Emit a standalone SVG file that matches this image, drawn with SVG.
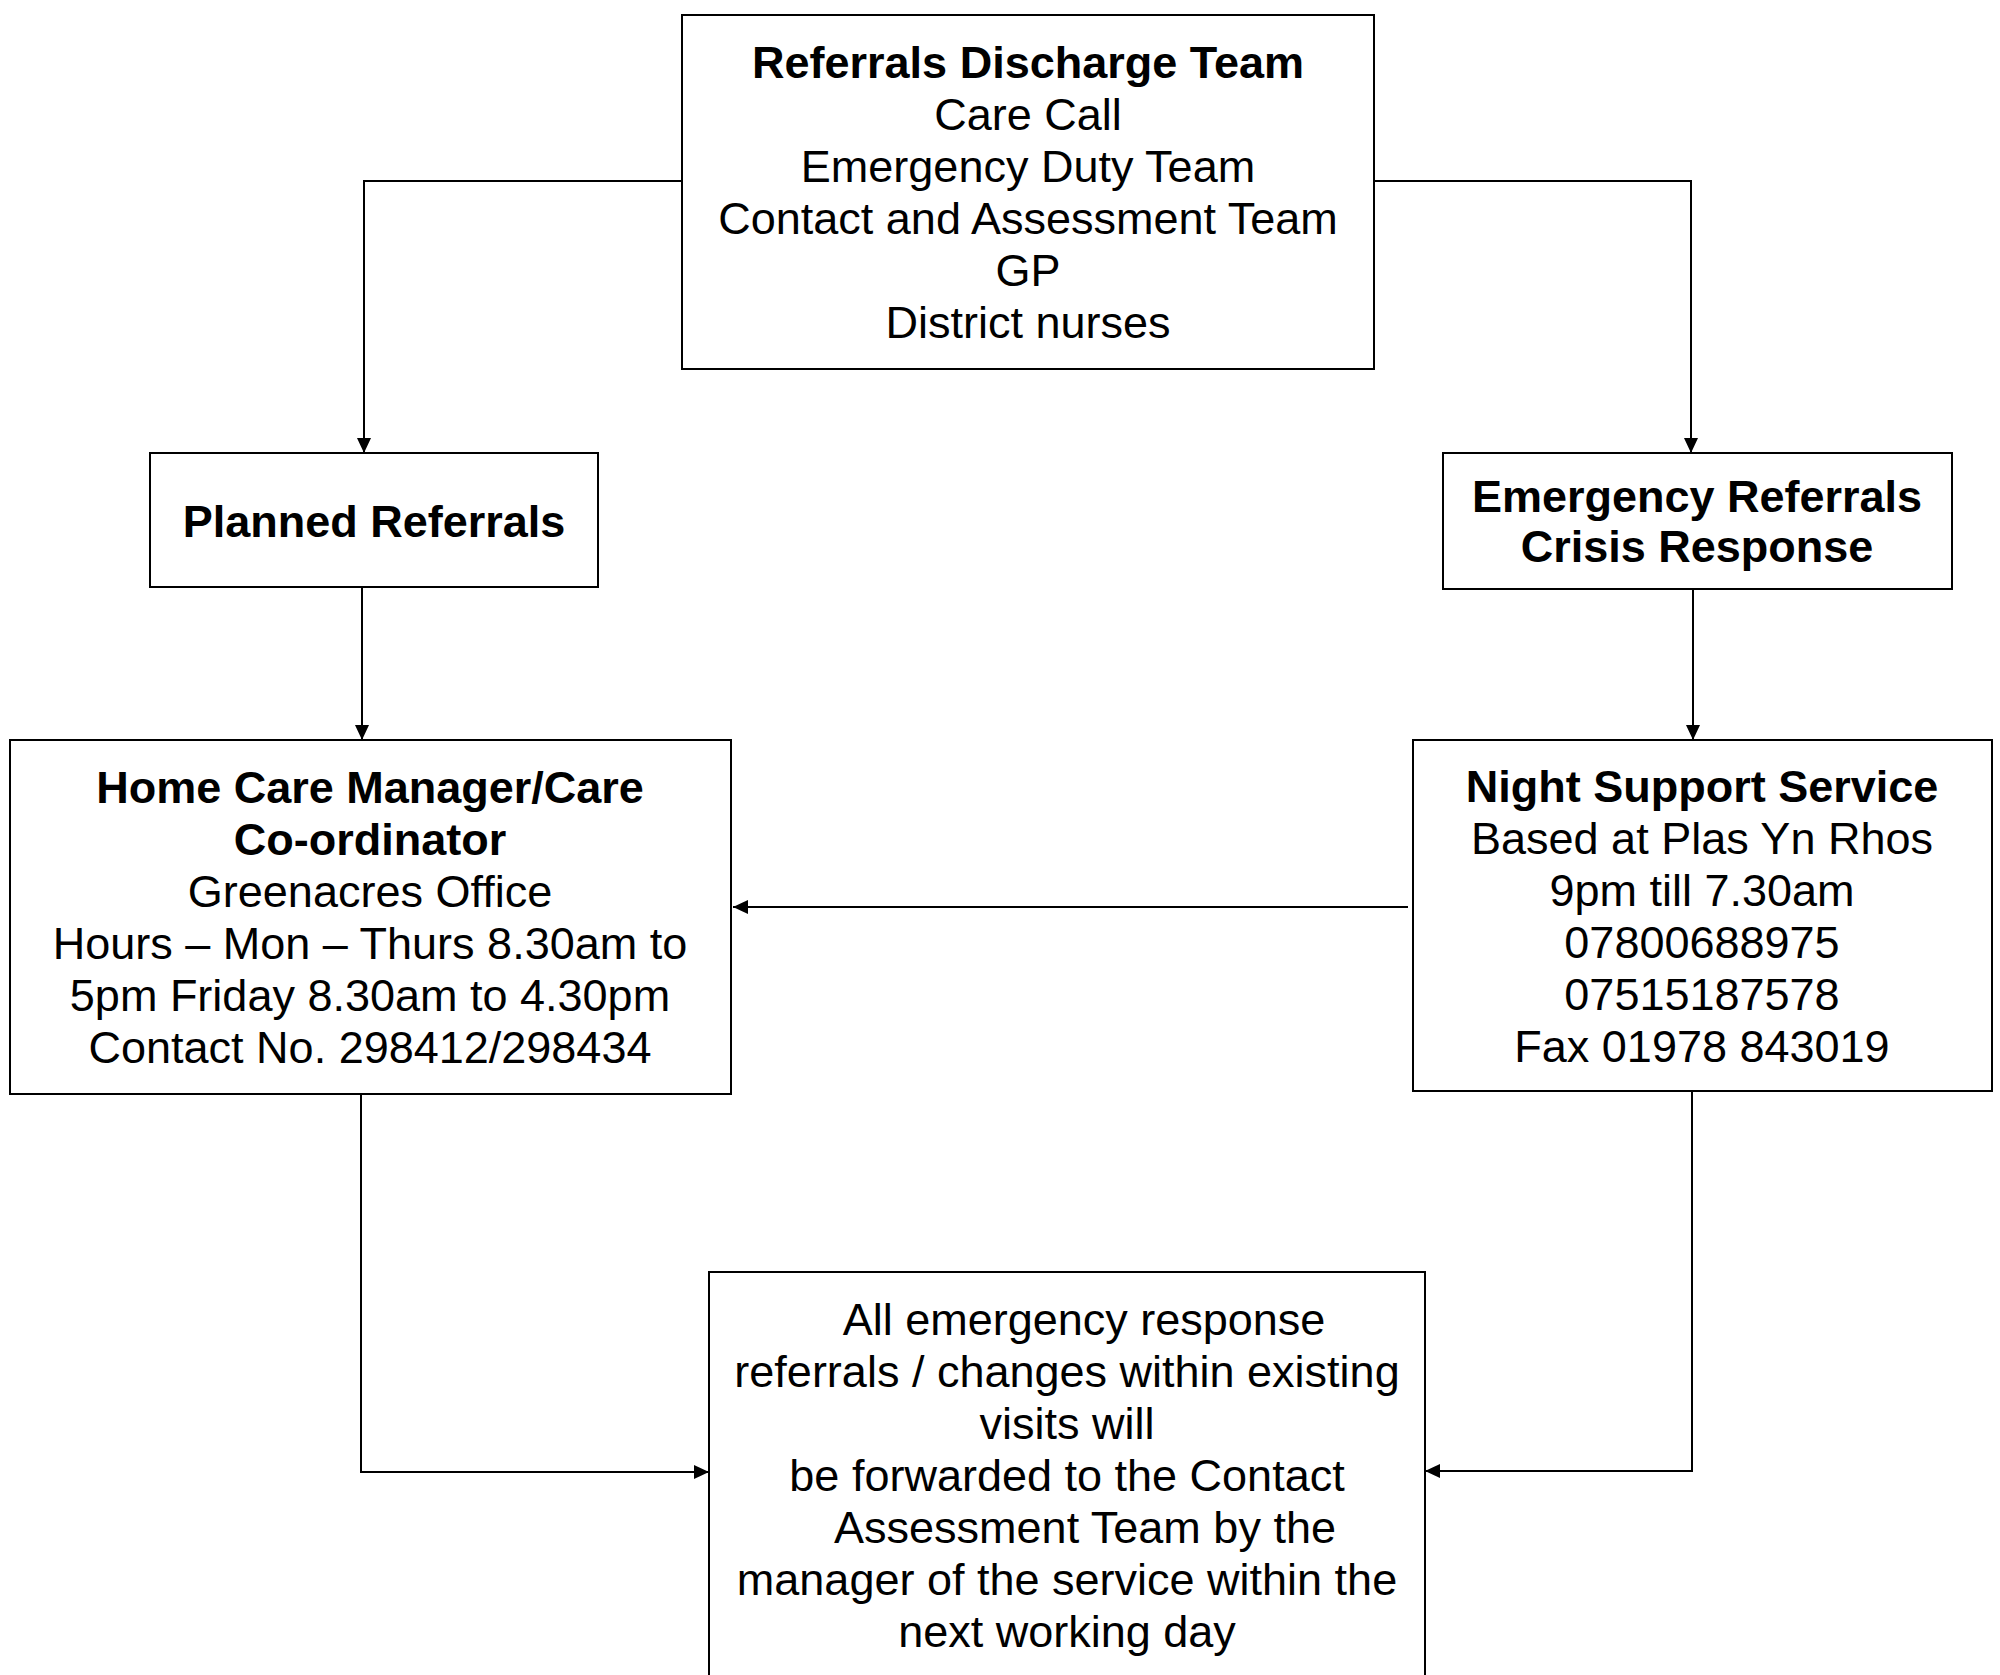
<svg xmlns="http://www.w3.org/2000/svg" width="2000" height="1675" viewBox="0 0 2000 1675">
<style>
.box{fill:#fff;stroke:#000;stroke-width:2}
.t{font-family:"Liberation Sans",Arial,sans-serif;font-size:45px;fill:#000;text-anchor:middle}
.b{font-weight:bold}
.c{fill:none;stroke:#000;stroke-width:2}
</style>
<defs>
<marker id="ah" markerUnits="userSpaceOnUse" markerWidth="16" markerHeight="14" refX="15" refY="7" orient="auto">
<path d="M0,0 L15,7 L0,14 z" fill="#000"/>
</marker>
</defs>
<rect width="2000" height="1675" fill="#fff"/>
<g id="connectors">
<path class="c" d="M682,181 H364 V453" marker-end="url(#ah)"/>
<path class="c" d="M1374,181 H1691 V453" marker-end="url(#ah)"/>
<path class="c" d="M362,587 V740" marker-end="url(#ah)"/>
<path class="c" d="M1693,589 V740" marker-end="url(#ah)"/>
<path class="c" d="M1408,907 H733" marker-end="url(#ah)"/>
<path class="c" d="M361,1095 V1472 H709" marker-end="url(#ah)"/>
<path class="c" d="M1692,1091 V1471 H1425" marker-end="url(#ah)"/>
</g>
<g id="referrals-discharge-team">
<rect class="box" x="682" y="15" width="692" height="354"/>
<text class="t b" x="1028" y="78">Referrals Discharge Team</text>
<text class="t" x="1028" y="130">Care Call</text>
<text class="t" x="1028" y="182">Emergency Duty Team</text>
<text class="t" x="1028" y="234">Contact and Assessment Team</text>
<text class="t" x="1028" y="286">GP</text>
<text class="t" x="1028" y="338">District nurses</text>
</g>
<g id="planned-referrals">
<rect class="box" x="150" y="453" width="448" height="134"/>
<text class="t b" x="374" y="537">Planned Referrals</text>
</g>
<g id="emergency-referrals">
<rect class="box" x="1443" y="453" width="509" height="136"/>
<text class="t b" x="1697" y="512">Emergency Referrals</text>
<text class="t b" x="1697" y="562">Crisis Response</text>
</g>
<g id="home-care-manager">
<rect class="box" x="10" y="740" width="721" height="354"/>
<text class="t b" x="370" y="803">Home Care Manager/Care</text>
<text class="t b" x="370" y="855">Co-ordinator</text>
<text class="t" x="370" y="907">Greenacres Office</text>
<text class="t" x="370" y="959">Hours – Mon – Thurs 8.30am to</text>
<text class="t" x="370" y="1011">5pm Friday 8.30am to 4.30pm</text>
<text class="t" x="370" y="1063">Contact No. 298412/298434</text>
</g>
<g id="night-support-service">
<rect class="box" x="1413" y="740" width="579" height="351"/>
<text class="t b" x="1702" y="802">Night Support Service</text>
<text class="t" x="1702" y="854">Based at Plas Yn Rhos</text>
<text class="t" x="1702" y="906">9pm till 7.30am</text>
<text class="t" x="1702" y="958">07800688975</text>
<text class="t" x="1702" y="1010">07515187578</text>
<text class="t" x="1702" y="1062">Fax 01978 843019</text>
</g>
<g id="forwarding-note">
<rect class="box" x="709" y="1272" width="716" height="430"/>
<text class="t" x="1084" y="1335">All emergency response</text>
<text class="t" x="1067" y="1387">referrals / changes within existing</text>
<text class="t" x="1067" y="1439">visits will</text>
<text class="t" x="1067" y="1491">be forwarded to the Contact</text>
<text class="t" x="1085" y="1543">Assessment Team by the</text>
<text class="t" x="1067" y="1595">manager of the service within the</text>
<text class="t" x="1067" y="1647">next working day</text>
</g>
</svg>
